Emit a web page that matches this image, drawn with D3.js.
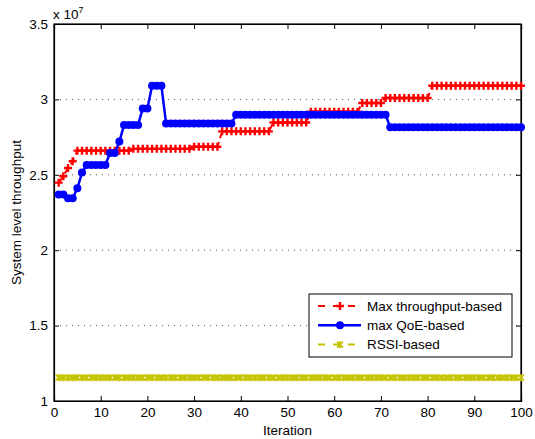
<!DOCTYPE html>
<html>
<head>
<meta charset="utf-8">
<script src="https://cdn.jsdelivr.net/npm/d3@7"></script>
<style>
  body { margin: 0; background: #fff; }
  text { font-family: "Liberation Sans", Arial, sans-serif; }
</style>
</head>
<body>
<div id="chart"></div>
<script>
// iterations 1..100, values in units of 1e7
const iterations = d3.range(1, 101);

// Max throughput-based: [fromIter, toIter, value]
const maxThroughputSteps = [
  [1, 1, 2.448], [2, 2, 2.49], [3, 3, 2.545], [4, 4, 2.59],
  [5, 16, 2.66], [17, 29, 2.672], [30, 35, 2.686], [36, 46, 2.788],
  [47, 54, 2.847], [55, 65, 2.918], [66, 70, 2.976], [71, 80, 3.009],
  [81, 100, 3.091]
];
// max QoE-based
const maxQoeSteps = [
  [1, 2, 2.37], [3, 4, 2.345], [5, 5, 2.41], [6, 6, 2.515],
  [7, 11, 2.565], [12, 13, 2.645], [14, 14, 2.72], [15, 18, 2.83],
  [19, 20, 2.94], [21, 23, 3.09], [24, 38, 2.84], [39, 71, 2.898],
  [72, 100, 2.815]
];
// RSSI-based
const rssiSteps = [[1, 100, 1.155]];

const xTicks = [0, 10, 20, 30, 40, 50, 60, 70, 80, 90, 100];
const yTicks = [1, 1.5, 2, 2.5, 3, 3.5];
const legendLabels = ["Max throughput-based", "max QoE-based", "RSSI-based"];

function expand(steps) {
  const out = [];
  steps.forEach(s => {
    for (let i = s[0]; i <= s[1]; i++) out.push({ x: i, y: s[2] });
  });
  return out;
}
const maxThroughput = expand(maxThroughputSteps);
const maxQoe = expand(maxQoeSteps);
const rssi = expand(rssiSteps);

const W = 535, H = 439;
const margin = { top: 24, right: 14, bottom: 38, left: 54 };
const width = W - margin.left - margin.right;
const height = H - margin.top - margin.bottom;

const svg = d3.select("#chart").append("svg")
  .attr("width", W).attr("height", H)
  .style("background", "#fff");

const g = svg.append("g")
  .attr("transform", `translate(${margin.left},${margin.top})`);

const x = d3.scaleLinear().domain([0, 100]).range([0, width]);
const y = d3.scaleLinear().domain([1, 3.5]).range([height, 0]);

// dotted horizontal grid
g.append("g")
  .selectAll("line")
  .data(yTicks.slice(1, -1))
  .join("line")
  .attr("x1", 0).attr("x2", width)
  .attr("y1", d => y(d)).attr("y2", d => y(d))
  .attr("stroke", "#555")
  .attr("stroke-width", 1)
  .attr("stroke-dasharray", "1,5");

// axes (ticks inward, mirrored top/right)
const fmt = d => d3.format("~g")(d);
const xAxis = g.append("g")
  .attr("transform", `translate(0,${height})`)
  .call(d3.axisBottom(x).tickValues(xTicks).tickSize(-5).tickPadding(8).tickFormat(fmt));
const yAxis = g.append("g")
  .call(d3.axisLeft(y).tickValues(yTicks).tickSize(-5).tickPadding(6).tickFormat(fmt));
g.append("g")
  .call(d3.axisTop(x).tickValues(xTicks).tickSize(-5).tickFormat(""));
g.append("g")
  .attr("transform", `translate(${width},0)`)
  .call(d3.axisRight(y).tickValues(yTicks).tickSize(-5).tickFormat(""));

g.selectAll(".domain").attr("stroke", "#000").attr("stroke-width", 1.2);
g.selectAll(".tick line").attr("stroke", "#000");
g.selectAll(".tick text").attr("font-size", 13.5).attr("fill", "#000")
  .style("font-family", "'Liberation Sans', Arial, sans-serif");
xAxis.selectAll(".tick text").attr("dy", "0.6em");

// plot box
g.append("rect")
  .attr("width", width).attr("height", height)
  .attr("fill", "none").attr("stroke", "#000").attr("stroke-width", 1.2);

const line = d3.line().x(d => x(d.x)).y(d => y(d.y));
const plot = g.append("g");

// RSSI-based
plot.append("path").datum(rssi)
  .attr("d", line).attr("fill", "none")
  .attr("stroke", "#c4c400").attr("stroke-width", 2)
  .attr("stroke-dasharray", "7,4");
plot.append("g").selectAll("path")
  .data(rssi).join("path")
  .attr("transform", d => `translate(${x(d.x)},${y(d.y)})`)
  .attr("d", "M-3,-3L3,3M-3,3L3,-3M0,-3.5L0,3.5")
  .attr("stroke", "#c4c400").attr("stroke-width", 1.8).attr("fill", "none");

// Max throughput-based
plot.append("path").datum(maxThroughput)
  .attr("d", line).attr("fill", "none")
  .attr("stroke", "#ff0000").attr("stroke-width", 2)
  .attr("stroke-dasharray", "7,4");
plot.append("g").selectAll("path")
  .data(maxThroughput).join("path")
  .attr("transform", d => `translate(${x(d.x)},${y(d.y)})`)
  .attr("d", "M-4,0L4,0M0,-4L0,4")
  .attr("stroke", "#ff0000").attr("stroke-width", 2.4).attr("fill", "none");

// max QoE-based
plot.append("path").datum(maxQoe)
  .attr("d", line).attr("fill", "none")
  .attr("stroke", "#0000ff").attr("stroke-width", 2.5);
plot.append("g").selectAll("circle")
  .data(maxQoe).join("circle")
  .attr("cx", d => x(d.x)).attr("cy", d => y(d.y))
  .attr("r", 4).attr("fill", "#0000ff");

// axis labels
svg.append("text")
  .attr("x", margin.left + width / 2).attr("y", 435)
  .attr("text-anchor", "middle").attr("font-size", 13.5)
  .text("Iteration");
svg.append("text")
  .attr("transform", `translate(21,${margin.top + height / 2}) rotate(-90)`)
  .attr("text-anchor", "middle").attr("font-size", 13.5)
  .text("System level throughput");

// exponent
const expo = svg.append("text")
  .attr("x", 53).attr("y", 19).attr("font-size", 13.5);
expo.append("tspan").text("x 10");
expo.append("tspan").attr("dy", -6).attr("font-size", 9).text("7");

// legend
const lx = 309, ly = 294, lw = 203, lh = 63;
const legend = svg.append("g");
legend.append("rect")
  .attr("x", lx).attr("y", ly).attr("width", lw).attr("height", lh)
  .attr("fill", "#fff").attr("stroke", "#000").attr("stroke-width", 1);

const legendRows = [
  { label: legendLabels[0], color: "#ff0000", dash: "7,8", marker: "plus" },
  { label: legendLabels[1], color: "#0000ff", dash: null, marker: "dot" },
  { label: legendLabels[2], color: "#c4c400", dash: "7,8", marker: "star" }
];
legendRows.forEach((r, i) => {
  const cy = ly + 12 + i * 19.3;
  legend.append("line")
    .attr("x1", lx + 9).attr("x2", lx + 52)
    .attr("y1", cy).attr("y2", cy)
    .attr("stroke", r.color).attr("stroke-width", r.dash ? 2 : 2.5)
    .attr("stroke-dasharray", r.dash);
  const mx = lx + 31;
  if (r.marker === "plus") {
    legend.append("path")
      .attr("d", `M${mx - 4},${cy}L${mx + 4},${cy}M${mx},${cy - 4}L${mx},${cy + 4}`)
      .attr("stroke", r.color).attr("stroke-width", 2.4);
  } else if (r.marker === "dot") {
    legend.append("circle").attr("cx", mx).attr("cy", cy).attr("r", 4).attr("fill", r.color);
  } else {
    legend.append("path")
      .attr("d", `M${mx - 3},${cy - 3}L${mx + 3},${cy + 3}M${mx - 3},${cy + 3}L${mx + 3},${cy - 3}M${mx},${cy - 3.5}L${mx},${cy + 3.5}`)
      .attr("stroke", r.color).attr("stroke-width", 1.8);
  }
  legend.append("text")
    .attr("x", lx + 58).attr("y", cy).attr("dy", "0.35em")
    .attr("font-size", 13.5)
    .text(r.label);
});
</script>
</body>
</html>
